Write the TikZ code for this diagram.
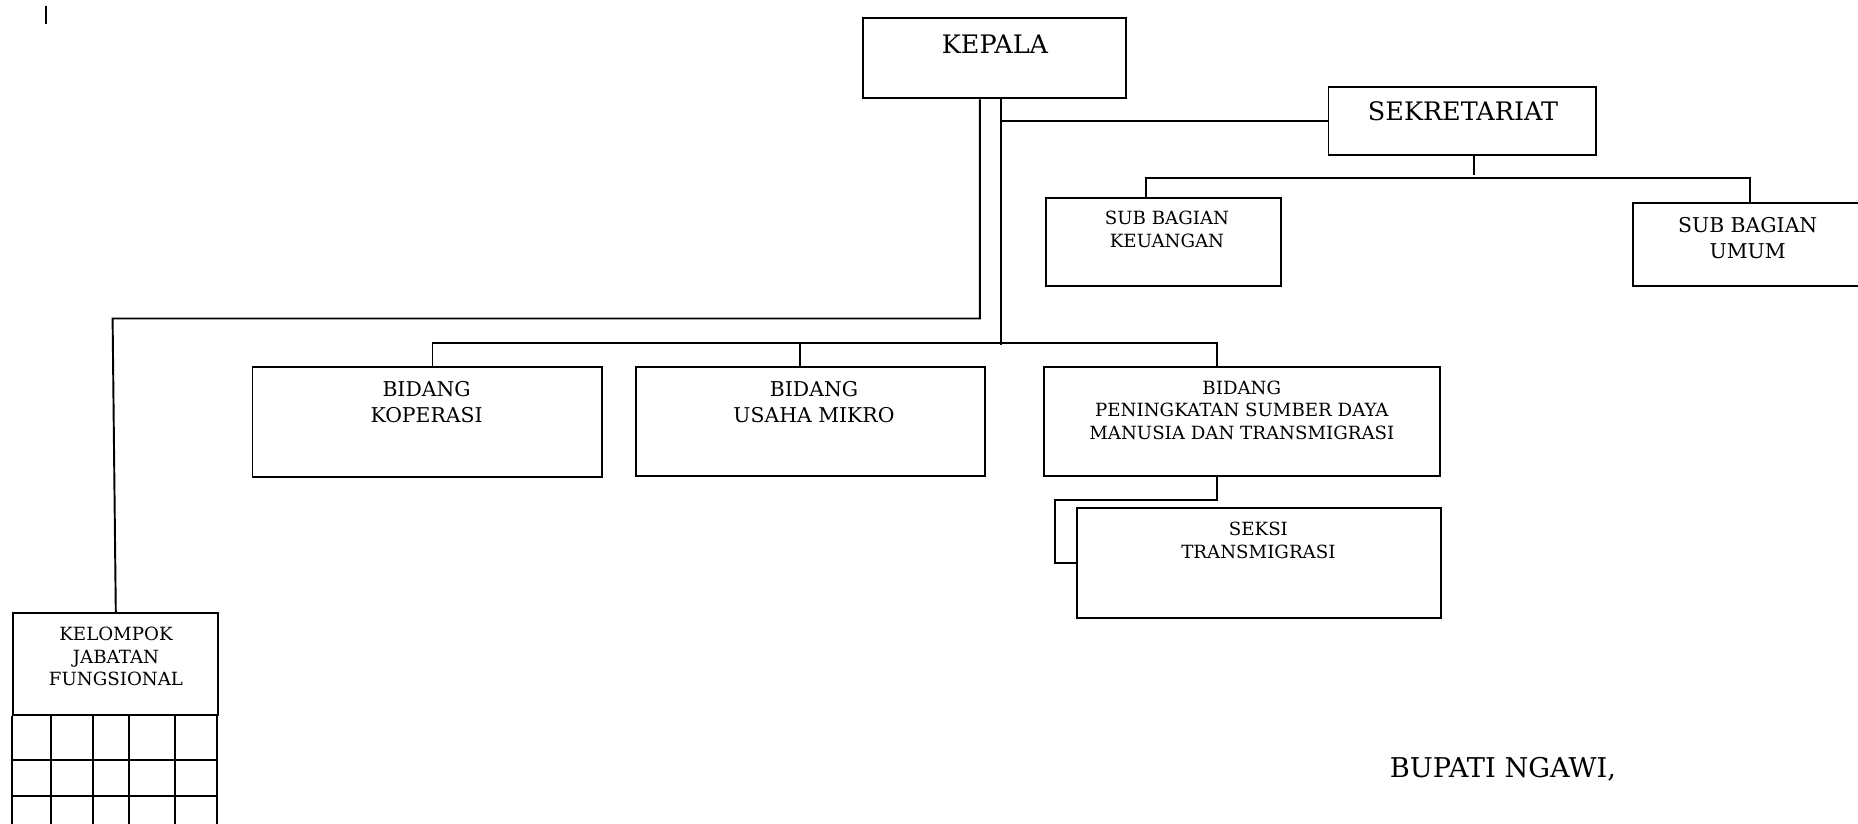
\documentclass[tikz,border=0pt]{standalone}
\usepackage{fontspec}
\setmainfont{DejaVu Serif}
\usetikzlibrary{calc}

\begin{document}
\begin{tikzpicture}[x=0.02cm, y=-0.02cm,
		unit/.style={draw, line width=1.1pt, inner sep=0pt},
		txt/.style={inner sep=0pt, align=center, font=\fontsize{10.35}{12.8}\selectfont},
		txtmid/.style={txt, font=\fontsize{11.6}{14.4}\selectfont},
		txtbig/.style={txt, font=\fontsize{14.5}{17}\selectfont},
		link/.style={line width=1.1pt}]
		
		\useasboundingbox (0,0) rectangle (1858,823);
		\clip (0,0) rectangle (1858,823);
		
		\coordinate (mark) at (46,6);
		\draw[link] (mark) -- ++(0,18);
		
		% boxes
		\node (kepala) at (994.2,58.1) [unit, minimum width=5.26cm, minimum height=1.61cm] {};
		\node (sekre) at (1462.2,120.9) [unit, minimum width=5.35cm, minimum height=1.37cm] {};
		\node (keu) at (1163.6,241.8) [unit, minimum width=4.69cm, minimum height=1.75cm] {};
		\node (umum) at (1747.4,244.1) [unit, minimum width=4.58cm, minimum height=1.66cm] {};
		\node (kop) at (427.2,422.4) [unit, minimum width=6.99cm, minimum height=2.20cm] {};
		\node (usaha) at (810.5,421.8) [unit, minimum width=6.97cm, minimum height=2.18cm] {};
		\node (psdm) at (1241.8,421.8) [unit, minimum width=7.92cm, minimum height=2.18cm] {};
		\node (seksi) at (1259,563.4) [unit, minimum width=7.28cm, minimum height=2.20cm] {};
		\node (kjf) at (115.8,664) [unit, minimum width=4.10cm, minimum height=2.04cm] {};
		
		% texts
		\node (kepala-t) at (995,43.8) [txtbig] {KEPALA};
		\node (sekre-t) at (1463,111.4) [txtbig] {SEKRETARIAT};
		\node (keu-t) at (1167,229.3) [txt] {SUB BAGIAN\\KEUANGAN};
		\node (umum-t) at (1747.7,238) [txtmid] {SUB BAGIAN\\UMUM};
		\node (kop-t) at (426.6,402) [txtmid] {BIDANG\\KOPERASI};
		\node (usaha-t) at (814,402) [txtmid] {BIDANG\\USAHA MIKRO};
		\node (psdm-t) at (1241.8,410) [txt] {BIDANG\\PENINGKATAN SUMBER DAYA\\MANUSIA DAN TRANSMIGRASI};
		\node (seksi-t) at (1258.4,540.3) [txt] {SEKSI\\TRANSMIGRASI};
		\node (kjf-t) at (116,656.5) [txt] {KELOMPOK\\JABATAN\\FUNGSIONAL};
		\node (bupati) at (1503,769) [txtbig, font=\fontsize{15.5}{18}\selectfont] {BUPATI NGAWI,};
		
		% lines from kepala
		\draw[link] ($(kepala.south)+(7,0)$) |- (sekre.west);
		\draw[link] ($(kepala.south)+(7,0)$) -- ++(0,245.3);
		\draw[link] ($(kepala.south)+(-14.3,0)$) -- ++(0,219.2) -- ++(-867.3,0) -- (kjf.north);
		
		% bidang
		\draw[link] ($(kop.north)+(5.3,0)$) -- ++(0,-23.7) -| ($(psdm.north)+(-24.9,0)$);
		\draw[link] ($(usaha.north)+(-10.7,0)$) -- ++(0,-23.7);
		
		% sekretariat
		\draw[link] ($(sekre.south)+(11.8,0)$) -- ++(0,19);
		\draw[link] ($(keu.north)+(-17.8,0)$) -- ++(0,-18.9) -| ($(umum.north)+(2.7,0)$);
		
		% seksi
		\draw[link] ($(psdm.south)+(-24.9,0)$) -- ++(0,22.5) -- ++(-162.3,0) |- (seksi.west);
		
		% grid under kelompok
		\foreach \gx in {0,38.7,80.3,116.7,162.4,205} {
			\draw[link] ($(kjf.south west)+(\gx,0)$) -- ++(0,125);
		}
		\foreach \gy in {44,80} {
			\draw[link] ($(kjf.south west)+(0,\gy)$) -- ++(205,0);
		}
		
	\end{tikzpicture}
\end{document}
